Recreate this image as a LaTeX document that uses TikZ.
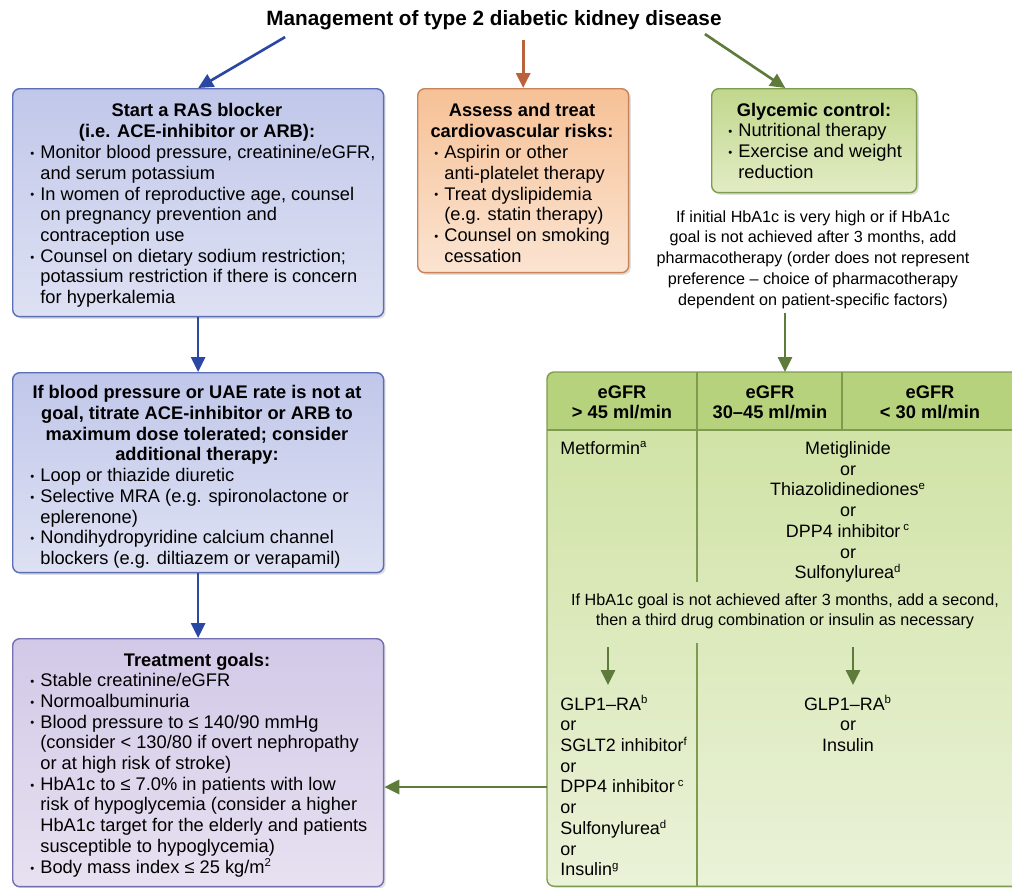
\documentclass[tikz,border=0pt]{standalone}
\usepackage{fontspec}
\setmainfont{Liberation Sans}
\usetikzlibrary{positioning, arrows.meta, calc, shadows}
\definecolor{rasline}{HTML}{5A6FB6}
\definecolor{rastop}{HTML}{C1C7EA}
\definecolor{rasbot}{HTML}{DEE1F3}
\definecolor{goalline}{HTML}{7470B0}
\definecolor{goaltop}{HTML}{D1C9E7}
\definecolor{goalbot}{HTML}{E7E1F1}
\definecolor{cvline}{HTML}{C98359}
\definecolor{cvtop}{HTML}{F6C196}
\definecolor{cvbot}{HTML}{FBE4D2}
\definecolor{glyline}{HTML}{7E9C50}
\definecolor{glytop}{HTML}{C1D78C}
\definecolor{glybot}{HTML}{E2ECC5}
\definecolor{tblhead}{HTML}{B7D27C}
\definecolor{tbltop}{HTML}{CEE1A0}
\definecolor{tblbot}{HTML}{EAF2D8}
\definecolor{arrblue}{HTML}{2A48A3}
\definecolor{arrorange}{HTML}{B9623B}
\definecolor{arrgreen}{HTML}{5F7B3B}

\newcommand{\blt}{\makebox[5.7pt][l]{\raisebox{0.12ex}{\scalebox{0.62}{\textbullet}}}}
\newcommand{\cont}{\hspace*{5.7pt}}
\newcommand{\sups}[1]{\textsuperscript{\fontsize{6.5}{6.5}\selectfont #1}}

\begin{document}
\begin{tikzpicture}[
  x=0.02cm, y=-0.02cm,
  font=\fontsize{10.4}{11.8}\selectfont,
  box/.style={rectangle, rounded corners=4pt, line width=0.8pt,
              anchor=north west, inner sep=0pt,
              drop shadow={opacity=0.25, shadow xshift=1.2pt, shadow yshift=-1.2pt}},
  rasb/.style={box, draw=rasline, top color=rastop, bottom color=rasbot},
  goalb/.style={box, draw=goalline, top color=goaltop, bottom color=goalbot},
  cvb/.style={box, draw=cvline, top color=cvtop, bottom color=cvbot},
  glyb/.style={box, draw=glyline, top color=glytop, bottom color=glybot},
  hd/.style={font=\fontsize{10.4}{11.8}\selectfont\bfseries, align=center,
             anchor=north, inner sep=0pt},
  lst/.style={align=left, anchor=north west, inner sep=0pt},
  note/.style={font=\fontsize{9.2}{11.8}\selectfont, align=center,
               anchor=north, inner sep=0pt},
  cell/.style={font=\fontsize{10.2}{11.8}\selectfont, inner sep=0pt},
  tline/.style={draw=glyline, line width=0.8pt},
  barr/.style={-{Triangle[length=8.5pt, width=8pt]}, line width=1.5pt, draw=arrblue, fill=arrblue},
  oarr/.style={barr, draw=arrorange, fill=arrorange},
  garr/.style={barr, draw=arrgreen, fill=arrgreen}
]
\useasboundingbox (0,0) rectangle (1012,887);

% --- title ---
\node[font=\fontsize{11.8}{14}\selectfont\bfseries, inner sep=0pt] (ttl) at (494,20)
  {Management of type 2 diabetic kidney disease};

% --- boxes ---
\node[rasb, minimum width=7.42cm, minimum height=4.56cm] (ras) at (12,88) {};
\node[cvb, minimum width=4.22cm, minimum height=3.68cm] (cvr) at (417,88) {};
\node[glyb, minimum width=4.10cm, minimum height=2.08cm] (gly) at (711,88) {};
\node[rasb, minimum width=7.42cm, minimum height=4.00cm] (uae) at (12,372) {};
\node[goalb, minimum width=7.42cm, minimum height=4.96cm] (goal) at (12,638) {};
\node[box, drop shadow={opacity=0}, top color=tbltop, bottom color=tblbot,
      minimum width=9.60cm, minimum height=10.26cm] (tbl) at (547,372) {};

% --- RAS blocker ---
\node[hd] (rasH) at (197,103) {Start a RAS blocker\\(i.e. ACE-inhibitor or ARB):};
\node[lst] (rasL) at (30,145) {%
  \blt Monitor blood pressure, creatinine/eGFR,\\
  \cont and serum potassium\\
  \blt In women of reproductive age, counsel\\
  \cont on pregnancy prevention and\\
  \cont contraception use\\
  \blt Counsel on dietary sodium restriction;\\
  \cont potassium restriction if there is concern\\
  \cont for hyperkalemia};

% --- cardiovascular risks ---
\node[hd] (cvrH) at (522,103) {Assess and treat\\cardiovascular risks:};
\node[lst] (cvrL) at (434,145) {%
  \blt Aspirin or other\\
  \cont anti-platelet therapy\\
  \blt Treat dyslipidemia\\
  \cont (e.g. statin therapy)\\
  \blt Counsel on smoking\\
  \cont cessation};

% --- glycemic control ---
\node[hd] (glyH) at (814,103) {Glycemic control:};
\node[lst] (glyL) at (728,123) {%
  \blt Nutritional therapy\\
  \blt Exercise and weight\\
  \cont reduction};
\node[note] (pharm) at (813,210) {%
  If initial HbA1c is very high or if HbA1c\\
  goal is not achieved after 3 months, add\\
  pharmacotherapy (order does not represent\\
  preference -- choice of pharmacotherapy\\
  dependent on patient-specific factors)};

% --- UAE / titration ---
\node[hd] (uaeH) at (197,385) {If blood pressure or UAE rate is not at\\
  goal, titrate ACE-inhibitor or ARB to\\maximum dose tolerated; consider\\additional therapy:};
\node[lst] (uaeL) at (30,468) {%
  \blt Loop or thiazide diuretic\\
  \blt Selective MRA (e.g. spironolactone or\\
  \cont eplerenone)\\
  \blt Nondihydropyridine calcium channel\\
  \cont blockers (e.g. diltiazem or verapamil)};

% --- treatment goals ---
\node[hd] (goalH) at (197,653) {Treatment goals:};
\node[lst] (goalL) at (30,673) {%
  \blt Stable creatinine/eGFR\\
  \blt Normoalbuminuria\\
  \blt Blood pressure to ≤ 140/90 mmHg\\
  \cont (consider < 130/80 if overt nephropathy\\
  \cont or at high risk of stroke)\\
  \blt HbA1c to ≤ 7.0\% in patients with low\\
  \cont risk of hypoglycemia (consider a higher\\
  \cont HbA1c target for the elderly and patients\\
  \cont susceptible to hypoglycemia)\\
  \blt Body mass index ≤ 25 kg/m\sups{2}};

% --- eGFR table ---
\fill[tblhead] (tbl.north west |- 0,430) [rounded corners=4pt] -- (tbl.north west)
  -- (tbl.north east) [sharp corners] -- (tbl.north east |- 0,430) -- cycle;
\draw[tline] (tbl.north west |- 0,430) -- (tbl.north east |- 0,430);
\draw[tline] (697,372) -- (697,582);
\draw[tline] (842,372) -- (842,430);
\draw[tline] (697,643) -- (697,887);
\draw[tline, rounded corners=4pt] (tbl.south west) rectangle (tbl.north east);

\node[hd] (h1) at (622,385) {eGFR\\> 45 ml/min};
\node[hd] (h2) at (770,385) {eGFR\\30--45 ml/min};
\node[hd] (h3) at (930,385) {eGFR\\< 30 ml/min};

\node[cell, anchor=north west] (met) at (560,441) {Metformin\sups{a}};
\node[cell, anchor=north, align=center] (mid) at (848,441) {%
  Metiglinide\\or\\Thiazolidinediones\sups{e}\\or\\DPP4 inhibitor\,\sups{c}\\or\\Sulfonylurea\sups{d}};
\node[note] (addon) at (785,593) {%
  If HbA1c goal is not achieved after 3 months, add a second,\\
  then a third drug combination or insulin as necessary};
\node[cell, anchor=north west, align=left] (glp) at (560,695) {%
  GLP1--RA\sups{b}\\or\\SGLT2 inhibitor\sups{f}\\or\\DPP4 inhibitor\,\sups{c}\\or\\
  Sulfonylurea\sups{d}\\or\\Insulin\sups{g}};
\node[cell, anchor=north, align=center] (glp2) at (848,695) {%
  GLP1--RA\sups{b}\\or\\Insulin};

% --- arrows ---
\draw[barr] ($(ttl.south west)+(19,7)$) -- (ras.north);
\draw[oarr] ($(cvr.north |- ttl.south)+(0,10)$) -- (cvr.north);
\draw[garr] ($(ttl.south east)+(-17,4)$) -- ($(gly.north west)!0.36!(gly.north east)$);
\draw[barr] (ras.south) -- (uae.north);
\draw[barr] (uae.south) -- (goal.north);
\coordinate (gx) at (785,0);
\draw[garr] ($(pharm.south -| gx)+(0,4)$) -- (tbl.north -| gx);
\coordinate (a1) at (608,647);
\coordinate (a2) at (853,647);
\draw[garr] (a1) -- ($(a1)+(0,38)$);
\draw[garr] (a2) -- ($(a2)+(0,38)$);
\coordinate (tj) at (547,787);
\draw[garr] (tj) -- (tj -| goal.east);
\end{tikzpicture}
\end{document}
